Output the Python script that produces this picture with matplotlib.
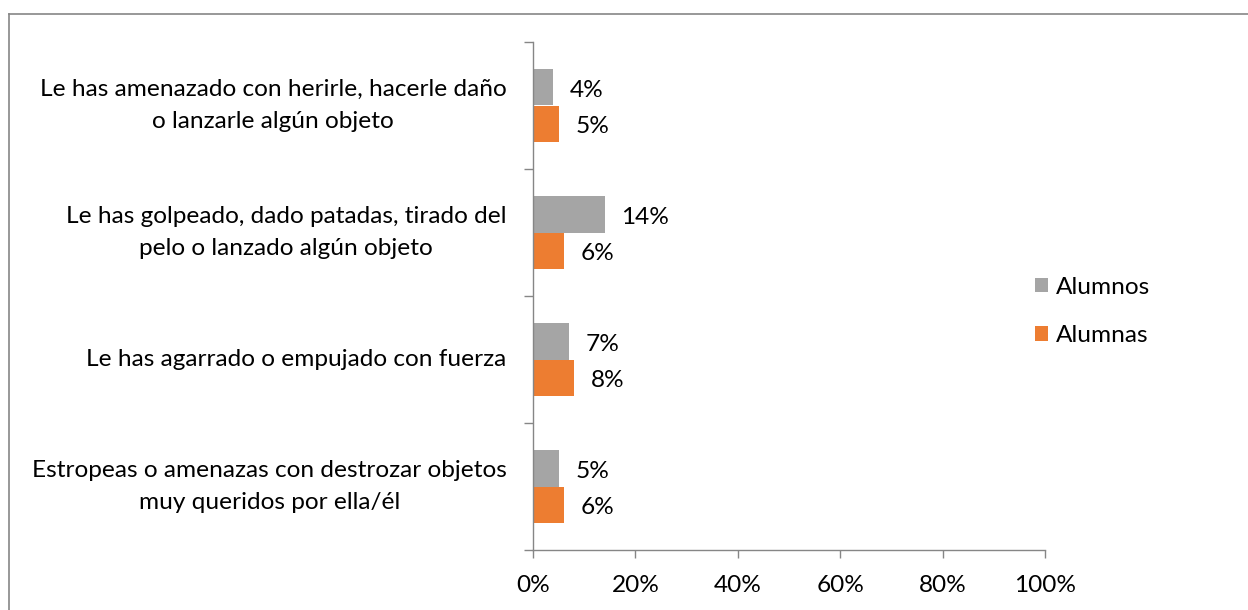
import matplotlib.pyplot as plt
import numpy as np
from matplotlib.lines import Line2D
from matplotlib.ticker import FixedLocator, PercentFormatter

plt.rcParams["font.family"] = ["Lato", "DejaVu Sans"]

categories = [
    "Le has amenazado con herirle, hacerle daño\no lanzarle algún objeto",
    "Le has golpeado, dado patadas, tirado del\npelo o lanzado algún objeto",
    "Le has agarrado o empujado con fuerza",
    "Estropeas o amenazas con destrozar objetos\nmuy queridos por ella/él",
]
alumnos = [4, 14, 7, 5]
alumnas = [5, 6, 8, 6]

gray = "#A5A5A5"
orange = "#ED7D31"
axis_col = "#868686"
fs = 17.6

fig = plt.figure(figsize=(12.48, 6.10), dpi=100)
ax = fig.add_axes([533 / 1248, 1 - 550 / 610, 512 / 1248, 508 / 610])

y = np.arange(len(categories))
h = 1 / 3.5
ax.barh(y - h / 2, alumnos, height=h, color=gray, label="Alumnos")
ax.barh(y + h / 2, alumnas, height=h, color=orange, label="Alumnas")

for yi, v in zip(y, alumnos):
    ax.annotate(f"{v}%", (v, yi - h / 2), xytext=(12, -2), textcoords="offset points",
                va="center", ha="left", fontsize=fs)
for yi, v in zip(y, alumnas):
    ax.annotate(f"{v}%", (v, yi + h / 2), xytext=(12, -2), textcoords="offset points",
                va="center", ha="left", fontsize=fs)

ax.set_xlim(0, 100)
ax.set_ylim(len(categories) - 0.5, -0.5)
ax.set_xticks([0, 20, 40, 60, 80, 100])
ax.xaxis.set_major_formatter(PercentFormatter(decimals=0))
ax.set_yticks(y)
ax.set_yticklabels(categories, multialignment="center", fontsize=fs, linespacing=1.7,
                   va="center")
ax.yaxis.set_minor_locator(FixedLocator(np.arange(len(categories) + 1) - 0.5))
ax.tick_params(axis="y", which="major", length=0, pad=19)
ax.tick_params(axis="y", which="minor", length=6.5, color=axis_col, width=1)
ax.tick_params(axis="x", length=6, color=axis_col, width=1, labelsize=fs, pad=12)

for s in ["top", "right"]:
    ax.spines[s].set_visible(False)
for s in ["left", "bottom"]:
    ax.spines[s].set_color(axis_col)
    ax.spines[s].set_linewidth(1)

ax.legend(loc="center left", bbox_to_anchor=(0.98, 0.47), frameon=False, fontsize=fs,
          handlelength=0.55, handleheight=0.55, labelspacing=1.12, handletextpad=0.3,
          borderaxespad=0, borderpad=0)

# chart area border (left and top visible)
fig.add_artist(Line2D([9 / 1248, 9 / 1248], [0, 1 - 14 / 610], color=axis_col, lw=1.2,
                      transform=fig.transFigure))
fig.add_artist(Line2D([9 / 1248, 1], [1 - 14 / 610, 1 - 14 / 610], color=axis_col, lw=1.2,
                      transform=fig.transFigure))

fig.savefig("out.png", dpi=100)
